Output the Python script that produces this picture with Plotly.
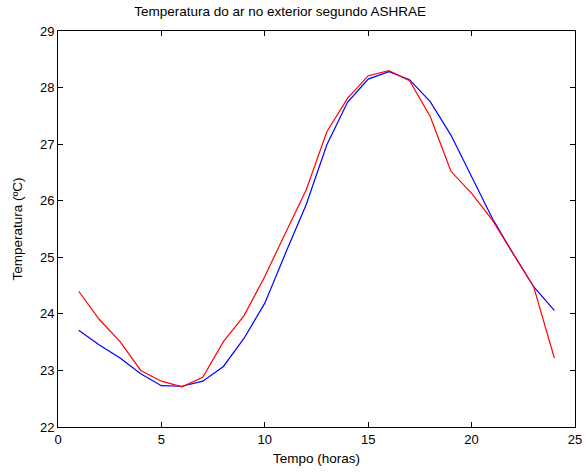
import plotly.graph_objects as go

horas = list(range(1, 25))
temp_vermelho = [24.40, 23.90, 23.51, 23.00, 22.81, 22.71, 22.88, 23.51, 23.97, 24.66,
                 25.43, 26.19, 27.22, 27.81, 28.21, 28.30, 28.12, 27.49, 26.52, 26.13,
                 25.66, 25.07, 24.48, 23.22]
temp_azul = [23.71, 23.45, 23.22, 22.94, 22.73, 22.72, 22.81, 23.07, 23.57, 24.19,
             25.07, 25.93, 26.99, 27.74, 28.15, 28.28, 28.14, 27.75, 27.16, 26.43,
             25.69, 25.07, 24.48, 24.06]

x_ticks = [0, 5, 10, 15, 20, 25]
y_ticks = [22, 23, 24, 25, 26, 27, 28, 29]

font = "Liberation Sans, Arial, sans-serif"

fig = go.Figure()
fig.add_trace(go.Scatter(x=horas, y=temp_azul, mode="lines",
                         line=dict(color="#0000ff", width=1.2), showlegend=False))
fig.add_trace(go.Scatter(x=horas, y=temp_vermelho, mode="lines",
                         line=dict(color="#ff0000", width=1.2), showlegend=False))

axis_common = dict(showgrid=False, zeroline=False, showline=True, linecolor="black",
                   linewidth=1, mirror="ticks", ticks="inside", ticklen=5,
                   tickcolor="black", automargin=False,
                   tickfont=dict(family=font, size=13, color="black"))

fig.update_layout(
    width=586, height=472,
    margin=dict(l=57.5, r=11, t=31, b=44.7),
    paper_bgcolor="white", plot_bgcolor="white",
    hovermode=False,
    title=dict(text="Temperatura do ar no exterior segundo ASHRAE",
               x=0.478, xanchor="center", y=0.976, yanchor="middle",
               font=dict(family=font, size=13.5, color="black")),
    xaxis=dict(range=[0, 25], tickvals=x_ticks,
               title=dict(text="Tempo (horas)", standoff=7,
                          font=dict(family=font, size=13.5, color="black")),
               **axis_common),
    yaxis=dict(range=[22, 29], tickvals=y_ticks,
               title=dict(text="Temperatura (ºC)", standoff=14,
                          font=dict(family=font, size=13.5, color="black")),
               **axis_common),
)

fig.write_html("out.html", config={"displayModeBar": False},
               post_script="document.body.style.margin='0';")
